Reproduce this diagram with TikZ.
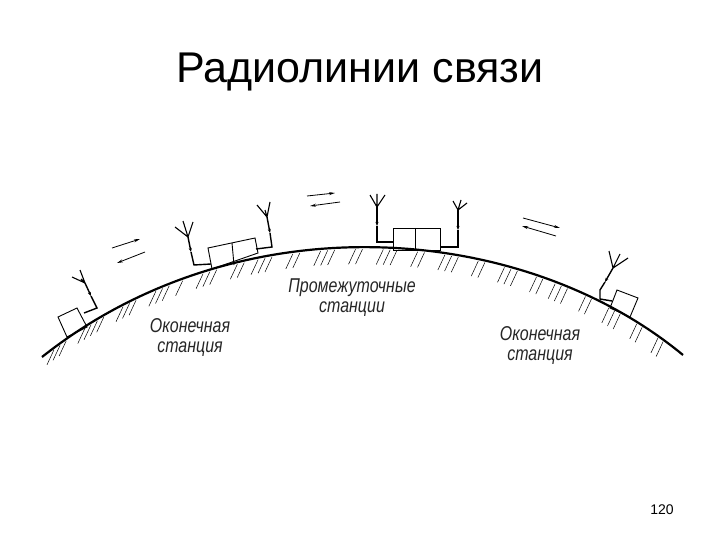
\documentclass[tikz,border=0pt]{standalone}
\usepackage{fontspec}
\setmainfont{Liberation Sans}
\usetikzlibrary{arrows.meta,calc}
\begin{document}
\begin{tikzpicture}[x=1pt,y=-1pt,
  lbl/.style={font=\itshape\fontsize{20}{20}\selectfont, xscale=0.8, align=center, text=black!85},
  arr/.style={line width=0.8pt,-{Stealth[length=6pt,width=3pt]}},
  bx/.style={line width=0.9pt},
  mast/.style={line width=1.4pt},
  arm/.style={line width=1.1pt},
  tipm/.style={line width=1.4pt,-{Stealth[length=4pt,width=3pt]}}]
\useasboundingbox (0,0) rectangle (720,540);
\node[font=\fontsize{43}{43}\selectfont] (title) at (360,72) {Радиолинии связи};
\node[font=\fontsize{14}{14}\selectfont] (pg) at (662,510) {120};
% earth
\draw[line width=2.2pt] (42,357) .. controls (240,200) and (522,222) .. (683,355);
\foreach \p in {0.02,0.03,0.04,0.07,0.08,0.09,0.10,0.13,0.14,0.15,0.18,0.19,0.20,0.22,0.25,0.26,0.27,0.30,0.31,0.33,0.34,0.35,0.38,0.39,0.42,0.43,0.44,0.47,0.48,0.51,0.52,0.53,0.56,0.57,0.60,0.61,0.62,0.65,0.66,0.69,0.70,0.71,0.74,0.75,0.77,0.78,0.79,0.82,0.83,0.86,0.87,0.88,0.91,0.92,0.95,0.96}{
  \path (42,357) .. controls (240,200) and (522,222) .. (683,355) coordinate[pos=\p] (hp);
  \draw[line width=0.5pt] ($(hp)+(0,2)$) -- ++(-7,15);
}
% left end station
\draw[bx] (58,317) -- (77,308) -- (87,327) -- (67,337) -- cycle;
\coordinate (f1) at (85,283);
\draw[arm] (f1) -- (72,277) (f1) -- (80,270) (f1) -- (81,279);
\draw[tipm] (f1) -- (91,296);
\draw[mast] (91,296) -- (97,308) -- (84,313);
% left intermediate station
\draw[bx] (208,248) -- (255,238) -- (258,253) -- (212,269) -- cycle;
\draw[bx] (232,243) -- (234,265);
\coordinate (f2) at (188,237);
\draw[arm] (f2) -- (175,227) (f2) -- (183,221) (f2) -- (193,222);
\draw[tipm] (f2) -- (191,252);
\draw[mast] (191,252) -- (194,265) -- (211,264);
\coordinate (f3) at (267,217);
\draw[arm] (f3) -- (257,205) (f3) -- (270,202) (f3) -- (265,210);
\draw[tipm] (f3) -- (270,233);
\draw[mast] (270,233) -- (272,247) -- (256,249);
% middle intermediate station
\draw[bx] (393,228) rectangle (440,250);
\draw[bx] (415,228) -- (415,250);
\coordinate (f4) at (377,207);
\draw[arm] (f4) -- (370,195) (f4) -- (377,194) (f4) -- (385,195);
\draw[tipm] (f4) -- (377,226);
\draw[mast] (377,226) -- (377,242) -- (393,242);
\coordinate (f5) at (458,210);
\draw[arm] (f5) -- (453,201) (f5) -- (467,203) (f5) -- (461,200);
\draw[tipm] (f5) -- (458,230);
\draw[mast] (458,230) -- (458,247) -- (440,247);
% right end station
\draw[bx] (617,290) -- (638,298) -- (630,317) -- (610,308) -- cycle;
\coordinate (f6) at (613,268);
\draw[arm] (f6) -- (609,251) (f6) -- (628,258) (f6) -- (620,254);
\draw[tipm] (f6) -- (605,282);
\draw[mast] (605,282) -- (600,290) -- (600,299) -- (612,301);
% arrows
\draw[arr] (112,248) -- (140,239);
\draw[arr] (145,252) -- (117,263);
\draw[arr] (307,196) -- (335,193);
\draw[arr] (340,202) -- (310,206);
\draw[arr] (523,218) -- (560,228);
\draw[arr] (556,236) -- (522,226);
% labels
\node[lbl] (l1) at (190,338) {Оконечная\\станция};
\node[lbl] (l2) at (352,298) {Промежуточные\\станции};
\node[lbl] (l3) at (540,346) {Оконечная\\станция};
\end{tikzpicture}
\end{document}
